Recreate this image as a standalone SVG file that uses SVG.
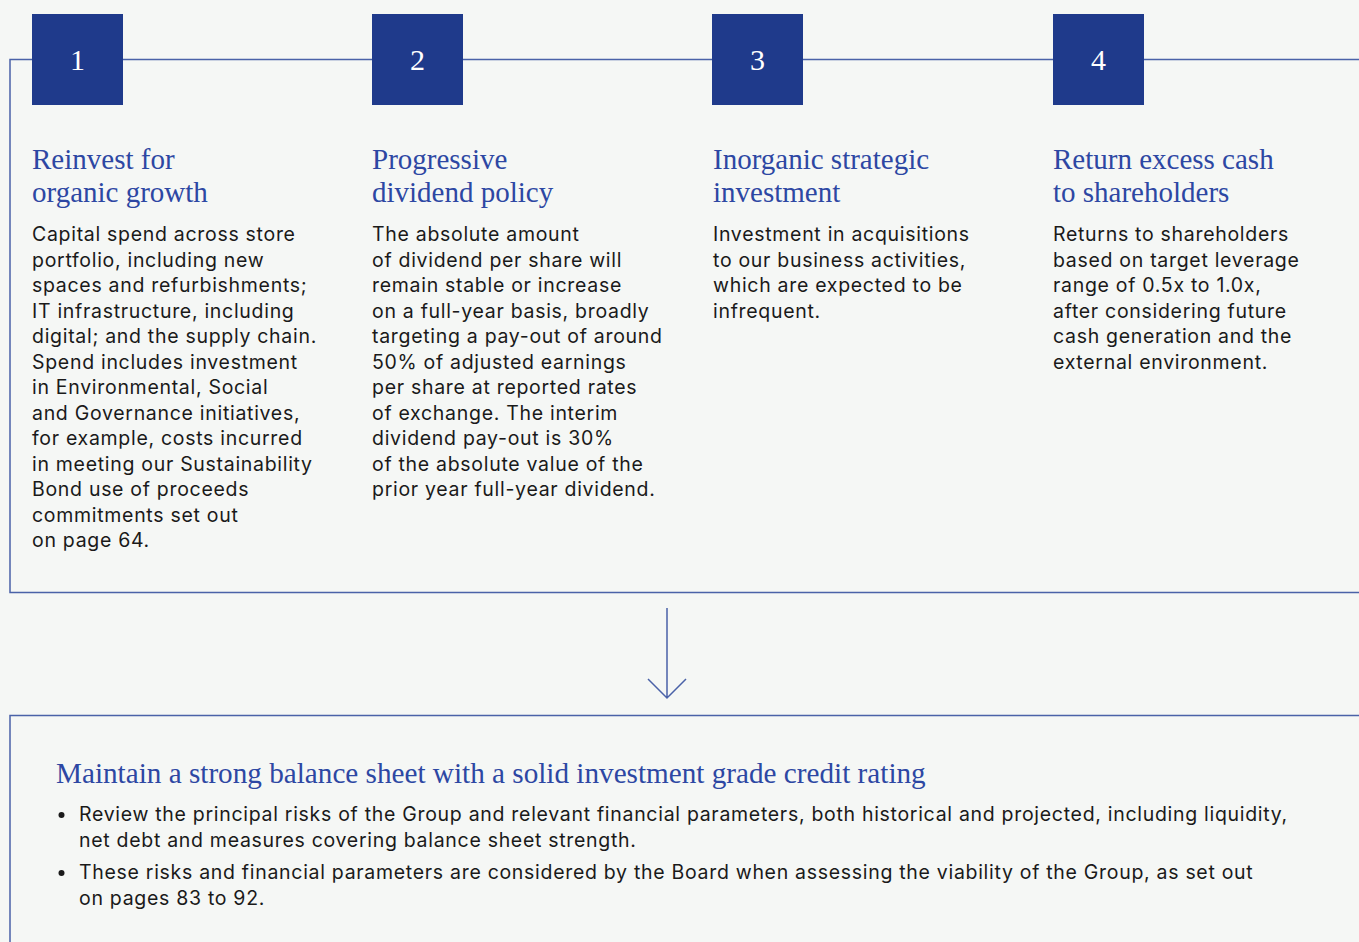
<svg xmlns="http://www.w3.org/2000/svg" width="1359" height="942" viewBox="0 0 1359 942">
<style>
.frame{fill:none;stroke:#4a62a8;stroke-width:1.5}
.sq{fill:#1f3a8b}
.num{font-family:"Liberation Serif",serif;font-size:30px;fill:#ffffff;text-anchor:middle}
.ttl{font-family:"Liberation Serif",serif;font-size:29px;fill:#2d47a3}
.body{font-family:Inter,"Liberation Sans",sans-serif;font-size:19.5px;letter-spacing:0.7px;fill:#1a1a1a}
.big{font-family:"Liberation Serif",serif;font-size:29.2px;fill:#2d47a3}
</style>
<rect x="0" y="0" width="1359" height="942" fill="#f5f7f5"/>
<g id="connectors">
<path class="frame" d="M1359,59.5 H10 V592.5 H1359"/>
<path class="frame" d="M1359,715.5 H10 V942"/>
<path class="frame" d="M667,608 V698 M648,679 L667,698 L686,679"/>
</g>
<g id="step1">
<rect class="sq" x="32" y="14" width="91" height="91"/>
<text class="num" x="77.5" y="70">1</text>
<text class="ttl" x="32"><tspan x="32" y="169">Reinvest for</tspan><tspan x="32" y="202">organic growth</tspan></text>
<text class="body"><tspan x="32" y="241">Capital spend across store</tspan><tspan x="32" y="266.5">portfolio, including new</tspan><tspan x="32" y="292">spaces and refurbishments;</tspan><tspan x="32" y="317.5">IT infrastructure, including</tspan><tspan x="32" y="343">digital; and the supply chain.</tspan><tspan x="32" y="368.5">Spend includes investment</tspan><tspan x="32" y="394">in Environmental, Social</tspan><tspan x="32" y="419.5">and Governance initiatives,</tspan><tspan x="32" y="445">for example, costs incurred</tspan><tspan x="32" y="470.5">in meeting our Sustainability</tspan><tspan x="32" y="496">Bond use of proceeds</tspan><tspan x="32" y="521.5">commitments set out</tspan><tspan x="32" y="547">on page 64.</tspan></text>
</g>
<g id="step2">
<rect class="sq" x="372" y="14" width="91" height="91"/>
<text class="num" x="417.5" y="70">2</text>
<text class="ttl"><tspan x="372" y="169">Progressive</tspan><tspan x="372" y="202">dividend policy</tspan></text>
<text class="body"><tspan x="372" y="241">The absolute amount</tspan><tspan x="372" y="266.5">of dividend per share will</tspan><tspan x="372" y="292">remain stable or increase</tspan><tspan x="372" y="317.5">on a full-year basis, broadly</tspan><tspan x="372" y="343">targeting a pay-out of around</tspan><tspan x="372" y="368.5">50% of adjusted earnings</tspan><tspan x="372" y="394">per share at reported rates</tspan><tspan x="372" y="419.5">of exchange. The interim</tspan><tspan x="372" y="445">dividend pay-out is 30%</tspan><tspan x="372" y="470.5">of the absolute value of the</tspan><tspan x="372" y="496">prior year full-year dividend.</tspan></text>
</g>
<g id="step3">
<rect class="sq" x="712" y="14" width="91" height="91"/>
<text class="num" x="757.5" y="70">3</text>
<text class="ttl"><tspan x="713" y="169">Inorganic strategic</tspan><tspan x="713" y="202">investment</tspan></text>
<text class="body"><tspan x="713" y="241">Investment in acquisitions</tspan><tspan x="713" y="266.5">to our business activities,</tspan><tspan x="713" y="292">which are expected to be</tspan><tspan x="713" y="317.5">infrequent.</tspan></text>
</g>
<g id="step4">
<rect class="sq" x="1053" y="14" width="91" height="91"/>
<text class="num" x="1098.5" y="70">4</text>
<text class="ttl"><tspan x="1053" y="169">Return excess cash</tspan><tspan x="1053" y="202">to shareholders</tspan></text>
<text class="body"><tspan x="1053" y="241">Returns to shareholders</tspan><tspan x="1053" y="266.5">based on target leverage</tspan><tspan x="1053" y="292">range of 0.5x to 1.0x,</tspan><tspan x="1053" y="317.5">after considering future</tspan><tspan x="1053" y="343">cash generation and the</tspan><tspan x="1053" y="368.5">external environment.</tspan></text>
</g>
<g id="balance">
<text class="big" x="56" y="783">Maintain a strong balance sheet with a solid investment grade credit rating</text>
<circle cx="61.5" cy="815" r="3" fill="#1a1a1a"/>
<circle cx="61.5" cy="873" r="3" fill="#1a1a1a"/>
<text class="body"><tspan x="79" y="821">Review the principal risks of the Group and relevant financial parameters, both historical and projected, including liquidity,</tspan><tspan x="79" y="846.5">net debt and measures covering balance sheet strength.</tspan><tspan x="79" y="879">These risks and financial parameters are considered by the Board when assessing the viability of the Group, as set out</tspan><tspan x="79" y="904.5">on pages 83 to 92.</tspan></text>
</g>
</svg>
